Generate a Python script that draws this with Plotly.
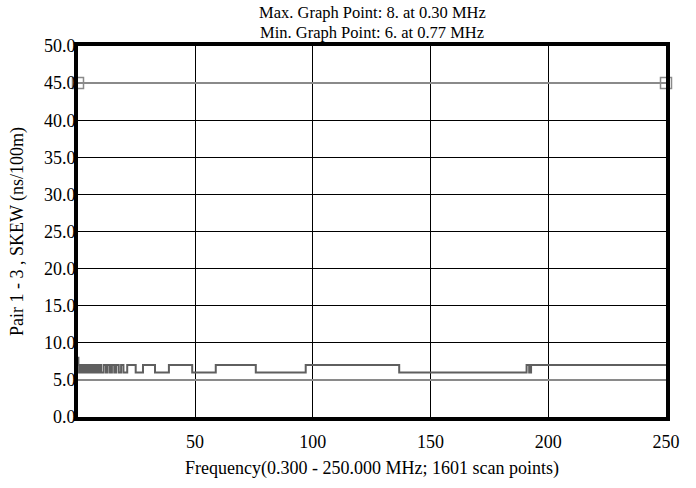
import plotly.graph_objects as go

# Step breakpoints: frequency (MHz) where a new SKEW level begins
freq_mhz = [0.30, 0.46, 0.77, 1.08, 1.39, 1.70, 2.02, 2.33, 2.64, 2.95, 3.26,
            3.57, 3.89, 4.20, 4.51, 4.82, 5.13, 5.44, 5.76, 6.07, 6.38, 6.69,
            7.00, 7.31, 7.63, 7.94, 8.25, 8.56, 8.87, 9.18, 9.50, 9.81, 10.12,
            10.43, 11.2, 12.2, 12.9, 13.9, 14.7, 15.7, 16.5, 17.6, 18.6, 19.6,
            21.2, 24.8, 27.9, 33.0, 38.9, 48.8, 58.8, 75.8, 97.0, 136.7,
            190.8, 191.9, 192.7, 250.0]
skew_ns = [8, 7, 6, 7, 6, 7, 6, 7, 6, 7, 6,
           7, 6, 7, 6, 7, 6, 7, 6, 7, 6, 7,
           6, 7, 6, 7, 6, 7, 6, 7, 6, 7, 6,
           6, 7, 6, 7, 6, 7, 6, 7, 6, 7, 6,
           7, 6, 7, 6, 7, 6, 7, 6, 7, 6,
           7, 6, 7, 7]

limit_freq = [0.3, 250.0]
upper_limit = [45, 45]
lower_limit = [5, 5]

y_ticks = [0, 5, 10, 15, 20, 25, 30, 35, 40, 45, 50]
x_ticks = [50, 100, 150, 200, 250]

FONT = "Liberation Serif, Times New Roman, serif"

fig = go.Figure()
fig.add_trace(go.Scatter(x=limit_freq, y=lower_limit, mode="lines",
                         line=dict(color="#8a8a8a", width=2), hoverinfo="skip"))
fig.add_trace(go.Scatter(x=limit_freq, y=upper_limit, mode="lines+markers",
                         line=dict(color="#8a8a8a", width=2),
                         marker=dict(symbol="square-open", size=11,
                                     color="#8a8a8a", line=dict(width=1.5)),
                         cliponaxis=False, hoverinfo="skip"))
fig.add_trace(go.Scatter(x=freq_mhz, y=skew_ns, mode="lines", line_shape="hv",
                         line=dict(color="#5f5f5f", width=2)))

fig.update_layout(
    width=696, height=488,
    margin=dict(l=78, r=30, t=46, b=67),
    paper_bgcolor="white", plot_bgcolor="white",
    showlegend=False,
    font=dict(family=FONT, size=18, color="black"),
    annotations=[
        dict(text="Max. Graph Point: 8. at 0.30 MHz", x=0.5, y=1, xref="paper",
             yref="paper", yshift=34, showarrow=False,
             font=dict(family=FONT, size=16.5), xanchor="center", yanchor="middle"),
        dict(text="Min. Graph Point: 6. at 0.77 MHz", x=0.5, y=1, xref="paper",
             yref="paper", yshift=14, showarrow=False,
             font=dict(family=FONT, size=16.5), xanchor="center", yanchor="middle"),
    ],
)
fig.update_xaxes(range=[0.3, 250], tickvals=x_ticks, ticktext=[str(v) for v in x_ticks],
                 showgrid=True, gridcolor="black", gridwidth=1,
                 showline=True, mirror=True, linecolor="black", linewidth=4,
                 ticks="", zeroline=False, tickfont=dict(size=18),
                 ticklabelstandoff=5,
                 title=dict(text="Frequency(0.300 - 250.000 MHz; 1601 scan points)",
                            font=dict(size=18), standoff=12))
fig.update_yaxes(range=[0, 50], tickvals=y_ticks, tickformat=".1f",
                 showgrid=True, gridcolor="black", gridwidth=1,
                 showline=True, mirror=True, linecolor="black", linewidth=4,
                 ticks="", zeroline=False, tickfont=dict(size=18),
                 ticklabelstandoff=-5,
                 title=dict(text="Pair 1 - 3 , SKEW (ns/100m)",
                            font=dict(size=18), standoff=17))

fig.write_html("out.html", config={"displayModeBar": False},
               post_script="document.body.style.margin='0';")
